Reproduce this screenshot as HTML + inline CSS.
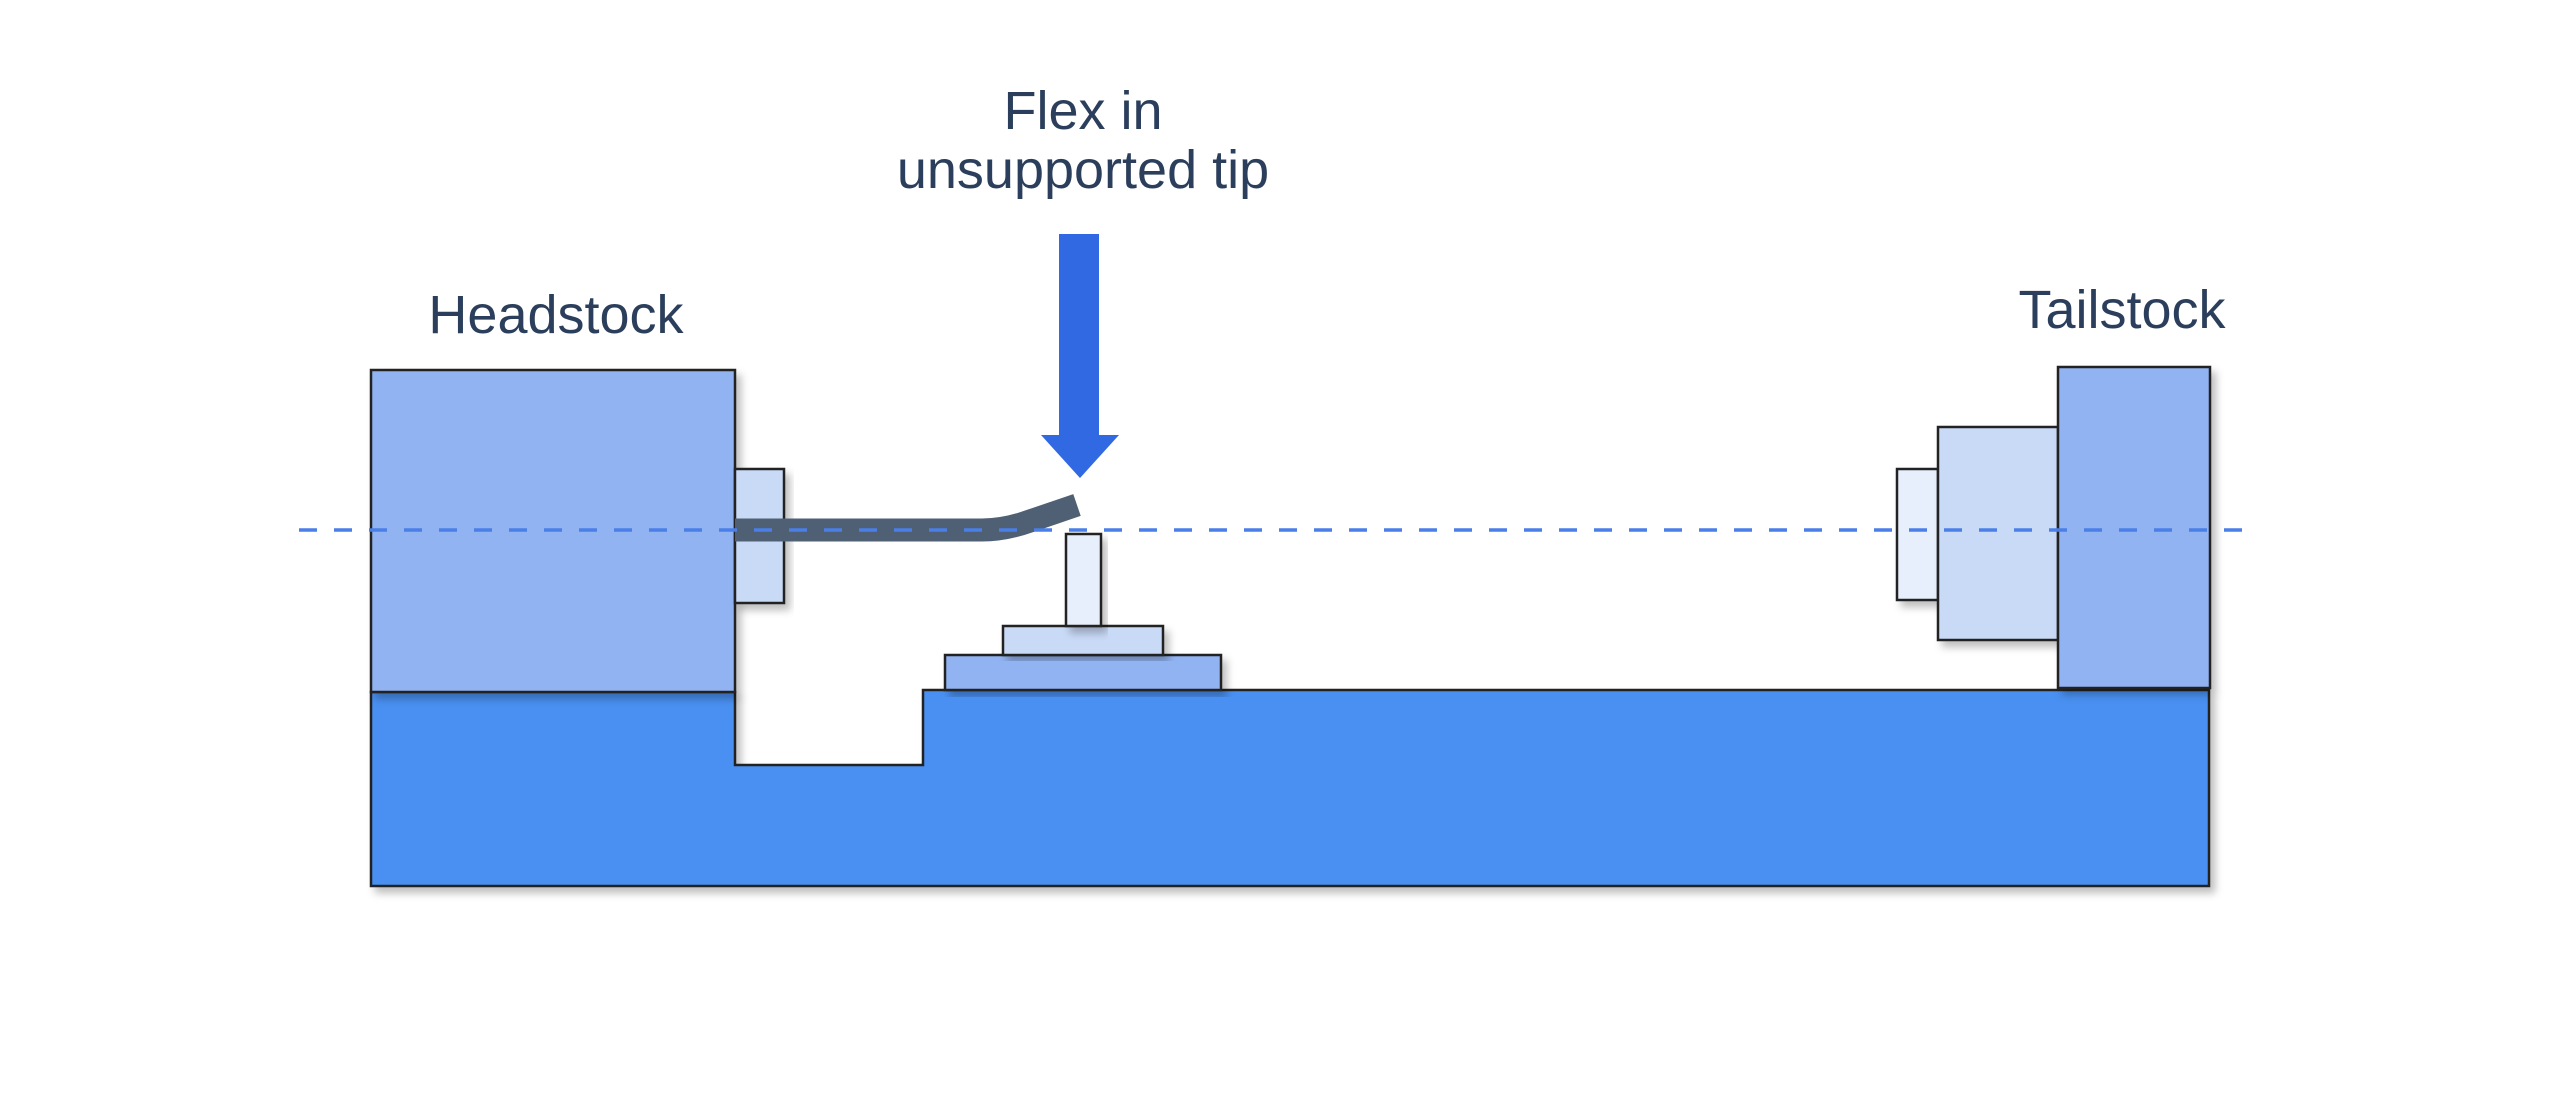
<!DOCTYPE html>
<html><head><meta charset="utf-8"><style>
html,body{margin:0;padding:0;background:#fff;}
svg{display:block;}
text{font-family:"Liberation Sans",sans-serif;fill:#2b3f5c;}
</style></head><body>
<svg width="2560" height="1118" viewBox="0 0 2560 1118" xmlns="http://www.w3.org/2000/svg">
<defs>
<filter id="sh" x="-10%" y="-10%" width="130%" height="130%">
<feDropShadow dx="5" dy="6" stdDeviation="4" flood-color="#000" flood-opacity="0.25"/>
</filter>
</defs>
<!-- base -->
<path d="M371 692 L735 692 L735 765 L923 765 L923 690 L2209 690 L2209 886 L371 886 Z" fill="#4a90f2" stroke="#222" stroke-width="2.5" filter="url(#sh)"/>
<!-- headstock -->
<rect x="371" y="370" width="364" height="322" fill="#91b3f2" stroke="#222" stroke-width="2.5" filter="url(#sh)"/>
<rect x="735" y="469" width="49" height="134" fill="#c9daf7" stroke="#222" stroke-width="2.5" filter="url(#sh)"/>
<!-- tool rest -->
<rect x="945" y="655" width="276" height="35" fill="#91b3f2" stroke="#222" stroke-width="2.5" filter="url(#sh)"/>
<rect x="1003" y="626" width="160" height="29" fill="#c9daf7" stroke="#222" stroke-width="2.5" filter="url(#sh)"/>
<rect x="1066" y="534" width="35" height="92" fill="#e8effc" stroke="#222" stroke-width="2.5" filter="url(#sh)"/>
<!-- tailstock -->
<rect x="1897" y="469" width="41" height="131" fill="#e8effc" stroke="#222" stroke-width="2.5" filter="url(#sh)"/>
<rect x="1938" y="427" width="120" height="213" fill="#c9daf7" stroke="#222" stroke-width="2.5" filter="url(#sh)"/>
<rect x="2058" y="367" width="152" height="321" fill="#91b3f2" stroke="#222" stroke-width="2.5" filter="url(#sh)"/>
<!-- workpiece bar -->
<path d="M735 530 L982 530 Q1005 530 1030 521 L1077 505" fill="none" stroke="#4f6075" stroke-width="23"/>
<!-- dashed centerline -->
<line x1="299" y1="530" x2="2252" y2="530" stroke="#4a7fe8" stroke-width="3.5" stroke-dasharray="18 17"/>
<!-- arrow -->
<rect x="1059" y="234" width="40" height="202" fill="#3169e3"/>
<polygon points="1041,435 1119,435 1080,478" fill="#3169e3"/>
<!-- labels -->
<text x="556" y="333" font-size="54" text-anchor="middle">Headstock</text>
<text x="2122" y="328" font-size="54" text-anchor="middle">Tailstock</text>
<text x="1083" y="129" font-size="54" text-anchor="middle">Flex in</text>
<text x="1083" y="188" font-size="54" text-anchor="middle">unsupported tip</text>
</svg>
</body></html>
